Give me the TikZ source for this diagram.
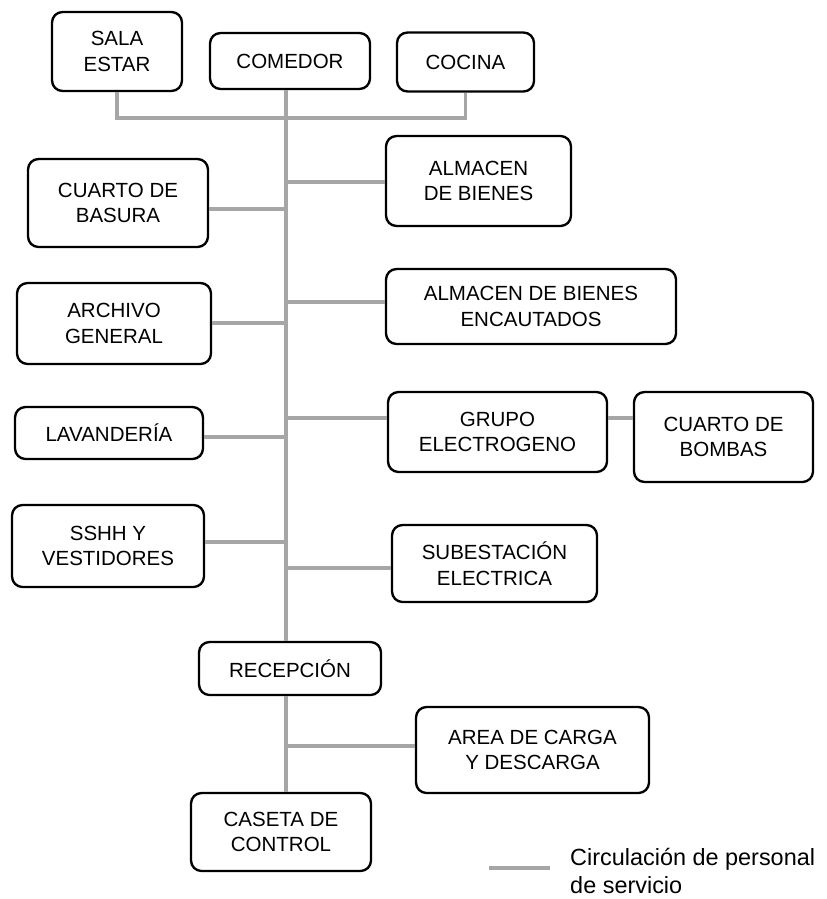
\documentclass[tikz,border=0pt]{standalone}
\usepackage{fontspec}
\setmainfont{Liberation Sans}
\definecolor{circgray}{RGB}{166,166,166}

\begin{document}
\begin{tikzpicture}[x=0.03cm,y=-0.03cm,
  room/.style={draw,line width=2pt,rounded corners=9pt,align=center,inner sep=0pt,
    font=\fontsize{17.5}{22}\selectfont},
  circ/.style={circgray,line width=2.6pt}]
  \useasboundingbox (0,0) rectangle (826,899);

  % Draw the rooms
  \node[room,minimum width=3.9cm,minimum height=2.37cm] (sala) at (117,51.5) {SALA\\ESTAR};
  \node[room,minimum width=4.8cm,minimum height=1.68cm] (comedor) at (290,61) {COMEDOR};
  \node[room,minimum width=4.11cm,minimum height=1.77cm] (cocina) at (465.5,62) {COCINA};
  \node[room,minimum width=5.55cm,minimum height=2.7cm] (almacen) at (478.5,181) {ALMACEN\\DE BIENES};
  \node[room,minimum width=5.4cm,minimum height=2.64cm] (basura) at (118,203) {CUARTO DE\\BASURA};
  \node[room,minimum width=5.82cm,minimum height=2.43cm] (archivo) at (114,323.5) {ARCHIVO\\GENERAL};
  \node[room,minimum width=8.7cm,minimum height=2.25cm] (encautados) at (531,306.5) {ALMACEN DE BIENES\\ENCAUTADOS};
  \node[room,minimum width=5.64cm,minimum height=1.56cm] (lavanderia) at (109,433) {LAVANDERÍA};
  \node[room,minimum width=6.57cm,minimum height=2.4cm] (grupo) at (497.5,432) {GRUPO\\ELECTROGENO};
  \node[room,minimum width=5.37cm,minimum height=2.7cm] (bombas) at (723.5,437) {CUARTO DE\\BOMBAS};
  \node[room,minimum width=5.76cm,minimum height=2.46cm] (sshh) at (108,546) {SSHH Y\\VESTIDORES};
  \node[room,minimum width=6.15cm,minimum height=2.31cm] (subestacion) at (494.5,563.5) {SUBESTACIÓN\\ELECTRICA};
  \node[room,minimum width=5.46cm,minimum height=1.59cm] (recepcion) at (290,668.5) {RECEPCIÓN};
  \node[room,minimum width=6.99cm,minimum height=2.58cm] (carga) at (532.5,750) {AREA DE CARGA\\Y DESCARGA};
  \node[room,minimum width=5.4cm,minimum height=2.34cm] (caseta) at (281,832) {CASETA DE\\CONTROL};

  % Junctions on the main corridor
  \coordinate (jTop) at (286,118);
  \coordinate (jAlm) at (286,182);
  \coordinate (jBas) at (286,209);
  \coordinate (jEnc) at (286,302);
  \coordinate (jArc) at (286,323);
  \coordinate (jGru) at (286,418);
  \coordinate (jLav) at (286,437);
  \coordinate (jSsh) at (286,542);
  \coordinate (jSub) at (286,568);
  \coordinate (jCar) at (286,746);

  % Draw the main corridor
  \draw[circ] (jTop |- comedor.south) -- (jTop |- recepcion.north);
  \draw[circ] (jTop |- recepcion.south) -- (jTop |- caseta.north);
  \draw[circ] (sala.south) |- (jTop) -| (cocina.south);

  % Draw the branches
  \draw[circ] (jAlm) -- (jAlm -| almacen.west);
  \draw[circ] (jBas) -- (jBas -| basura.east);
  \draw[circ] (jEnc) -- (jEnc -| encautados.west);
  \draw[circ] (jArc) -- (jArc -| archivo.east);
  \draw[circ] (jGru) -- (jGru -| grupo.west);
  \draw[circ] (jGru -| grupo.east) -- (jGru -| bombas.west);
  \draw[circ] (jLav) -- (jLav -| lavanderia.east);
  \draw[circ] (jSsh) -- (jSsh -| sshh.east);
  \draw[circ] (jSub) -- (jSub -| subestacion.west);
  \draw[circ] (jCar) -- (jCar -| carga.west);

  % Draw the legend
  \coordinate (legA) at (489,868);
  \coordinate (legB) at (550,868);
  \draw[circ] (legA) -- (legB);
  \node[anchor=west,align=left,inner sep=0pt,font=\fontsize{20}{24}\selectfont] (legtext) at (570,871)
    {Circulación de personal\\de servicio};
\end{tikzpicture}
\end{document}
